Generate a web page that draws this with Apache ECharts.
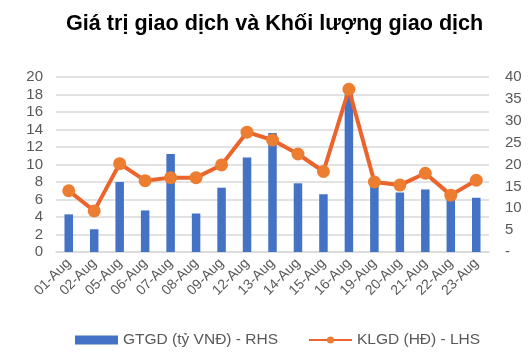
<!DOCTYPE html>
<html>
<head>
<meta charset="utf-8">
<script src="https://cdn.jsdelivr.net/npm/echarts@6/dist/echarts.min.js"></script>
<style>html,body{margin:0;padding:0;background:#fff;}#c{width:529px;height:356px;}</style>
</head>
<body>
<div id="c"></div>
<script>
const categories = ['01-Aug','02-Aug','05-Aug','06-Aug','07-Aug','08-Aug','09-Aug','12-Aug','13-Aug','14-Aug','15-Aug','16-Aug','19-Aug','20-Aug','21-Aug','22-Aug','23-Aug'];
// GTGD (tỷ VNĐ) - right-hand axis
const gtgd = [8.6, 5.2, 16.0, 9.5, 22.4, 8.8, 14.7, 21.6, 27.2, 15.7, 13.2, 36.0, 15.2, 13.6, 14.3, 12.4, 12.4];
// KLGD (HĐ) - left-hand axis
const klgd = [7.0, 4.7, 10.1, 8.15, 8.5, 8.5, 9.95, 13.7, 12.8, 11.2, 9.2, 18.6, 8.0, 7.65, 9.0, 6.5, 8.2];
const leftTicks = {min: 0, max: 20, interval: 2};
const rightTicks = {min: 0, max: 40, interval: 5};
const seriesNames = ['GTGD (tỷ VNĐ) - RHS', 'KLGD (HĐ) - LHS'];
const titleText = 'Giá trị giao dịch và Khối lượng giao dịch';

const font = 'Liberation Sans, Arial, sans-serif';
const chart = echarts.init(document.getElementById('c'), null, {renderer: 'canvas'});
chart.setOption({
  animation: false,
  backgroundColor: '#fff',
  title: {
    text: titleText, left: 61, top: 8,
    textStyle: {fontFamily: font, fontSize: 21.6, fontWeight: 'bold', color: '#000'}
  },
  legend: {
    bottom: 3, left: 70, itemGap: 30,
    itemWidth: 43, itemHeight: 9,
    textStyle: {fontFamily: font, fontSize: 15.5, color: '#595959'},
    data: [
      {name: seriesNames[0], icon: 'rect'},
      {name: seriesNames[1]}
    ]
  },
  grid: {left: 56, right: 40, top: 77, bottom: 104, containLabel: false},
  xAxis: {
    type: 'category', data: categories,
    axisLine: {lineStyle: {color: '#d9d9d9', width: 1.5}},
    axisTick: {show: false},
    axisLabel: {rotate: 45, fontFamily: font, fontSize: 14, color: '#595959', margin: 9, interval: 0}
  },
  yAxis: [
    {
      type: 'value', position: 'left', min: leftTicks.min, max: leftTicks.max, interval: leftTicks.interval,
      axisLine: {show: false}, axisTick: {show: false},
      splitLine: {lineStyle: {color: '#d9d9d9', width: 1.5}},
      axisLabel: {fontFamily: font, fontSize: 15, color: '#595959', margin: 13}
    },
    {
      type: 'value', position: 'right', min: rightTicks.min, max: rightTicks.max, interval: rightTicks.interval,
      axisLine: {show: false}, axisTick: {show: false}, splitLine: {show: false},
      axisLabel: {fontFamily: font, fontSize: 15, color: '#595959', margin: 16,
        formatter: v => v === 0 ? '-' : String(v)}
    }
  ],
  series: [
    {
      name: seriesNames[0], type: 'bar', yAxisIndex: 1, data: gtgd,
      barWidth: 8.5, itemStyle: {color: '#4472c4'}
    },
    {
      name: seriesNames[1], type: 'line', yAxisIndex: 0, data: klgd,
      symbol: 'circle', symbolSize: 13,
      lineStyle: {color: '#ea642b', width: 4},
      itemStyle: {color: '#ed7d31'}
    }
  ]
});
</script>
</body>
</html>
